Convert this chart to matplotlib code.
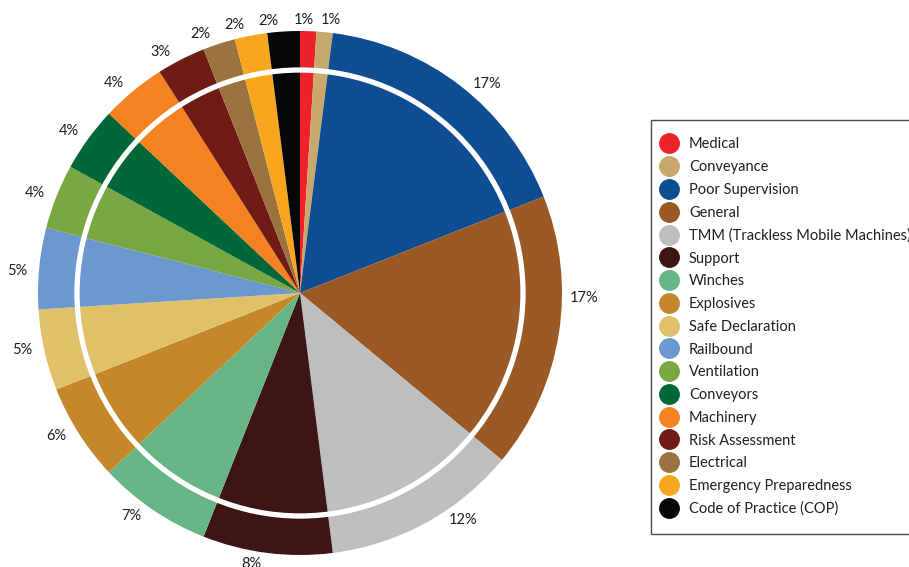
import numpy as np
import matplotlib
matplotlib.use("Agg")
import matplotlib.pyplot as plt
from matplotlib.lines import Line2D
from matplotlib.patches import Circle

plt.rcParams['font.family'] = ['Lato', 'DejaVu Sans']

categories = [
    "Medical", "Conveyance", "Poor Supervision", "General",
    "TMM (Trackless Mobile Machines)", "Support", "Winches", "Explosives",
    "Safe Declaration", "Railbound", "Ventilation", "Conveyors",
    "Machinery", "Risk Assessment", "Electrical",
    "Emergency Preparedness", "Code of Practice (COP)",
]
shares = [1, 1, 17, 17, 12, 8, 7, 6, 5, 5, 4, 4, 4, 3, 2, 2, 2]
colors = [
    "#EE2229", "#C9A96B", "#0E4D92", "#9B5A25", "#BDBEC0", "#3D1514",
    "#66B586", "#C4882B", "#E0C068", "#6A98CF", "#79A842", "#006838",
    "#F58220", "#701C14", "#9A733E", "#F9A61E", "#050708",
]
# small angular offsets (degrees) applied to the outside percentage labels
label_nudge = [1, -1, -4, 8, 7, -3, -3, -2, -1, 1, 1, 1, 2, 3, 3, 3, 3]

W, H = 909, 567
fig = plt.figure(figsize=(W / 100, H / 100), dpi=100)
ax = fig.add_axes([0, 0, 1, 1])

# pie geometry in pixels
cx, cy, R = 300, 293, 262

wedges, _ = ax.pie(
    shares, colors=colors, startangle=90, counterclock=False,
    wedgeprops=dict(linewidth=0),
)

# percentage labels sitting just outside the rim
for w, v, dn in zip(wedges, shares, label_nudge):
    ang = np.deg2rad((w.theta1 + w.theta2) / 2 + dn)
    r = (273 + 11 * abs(np.cos(ang))) / R
    ax.text(r * np.cos(ang), r * np.sin(ang), f"{v}%", ha='center', va='center',
            fontsize=10.5, color="#231F20")

ax.set_xlim(-cx / R, (W - cx) / R)
ax.set_ylim(-(H - cy) / R, cy / R)
ax.set_aspect('equal')
ax.axis('off')

# white inner ring
ax.add_patch(Circle((0, 0), 223 / R, fill=False, edgecolor='white', linewidth=3.8))

handles = [Line2D([], [], marker='o', linestyle='none', markersize=14,
                  markerfacecolor=c, markeredgecolor=c) for c in colors]
leg = fig.legend(handles, categories, loc='upper left',
                 bbox_to_anchor=(651 / W, 1 - 120 / H), borderaxespad=0,
                 fontsize=10.5, frameon=True, fancybox=False,
                 labelspacing=0.6, handletextpad=1.3, handlelength=0.1,
                 borderpad=1.2)
leg.get_frame().set_edgecolor('#231F20')
leg.get_frame().set_linewidth(1.0)
for t in leg.get_texts():
    t.set_color('#231F20')

fig.savefig("out.png", dpi=100)
